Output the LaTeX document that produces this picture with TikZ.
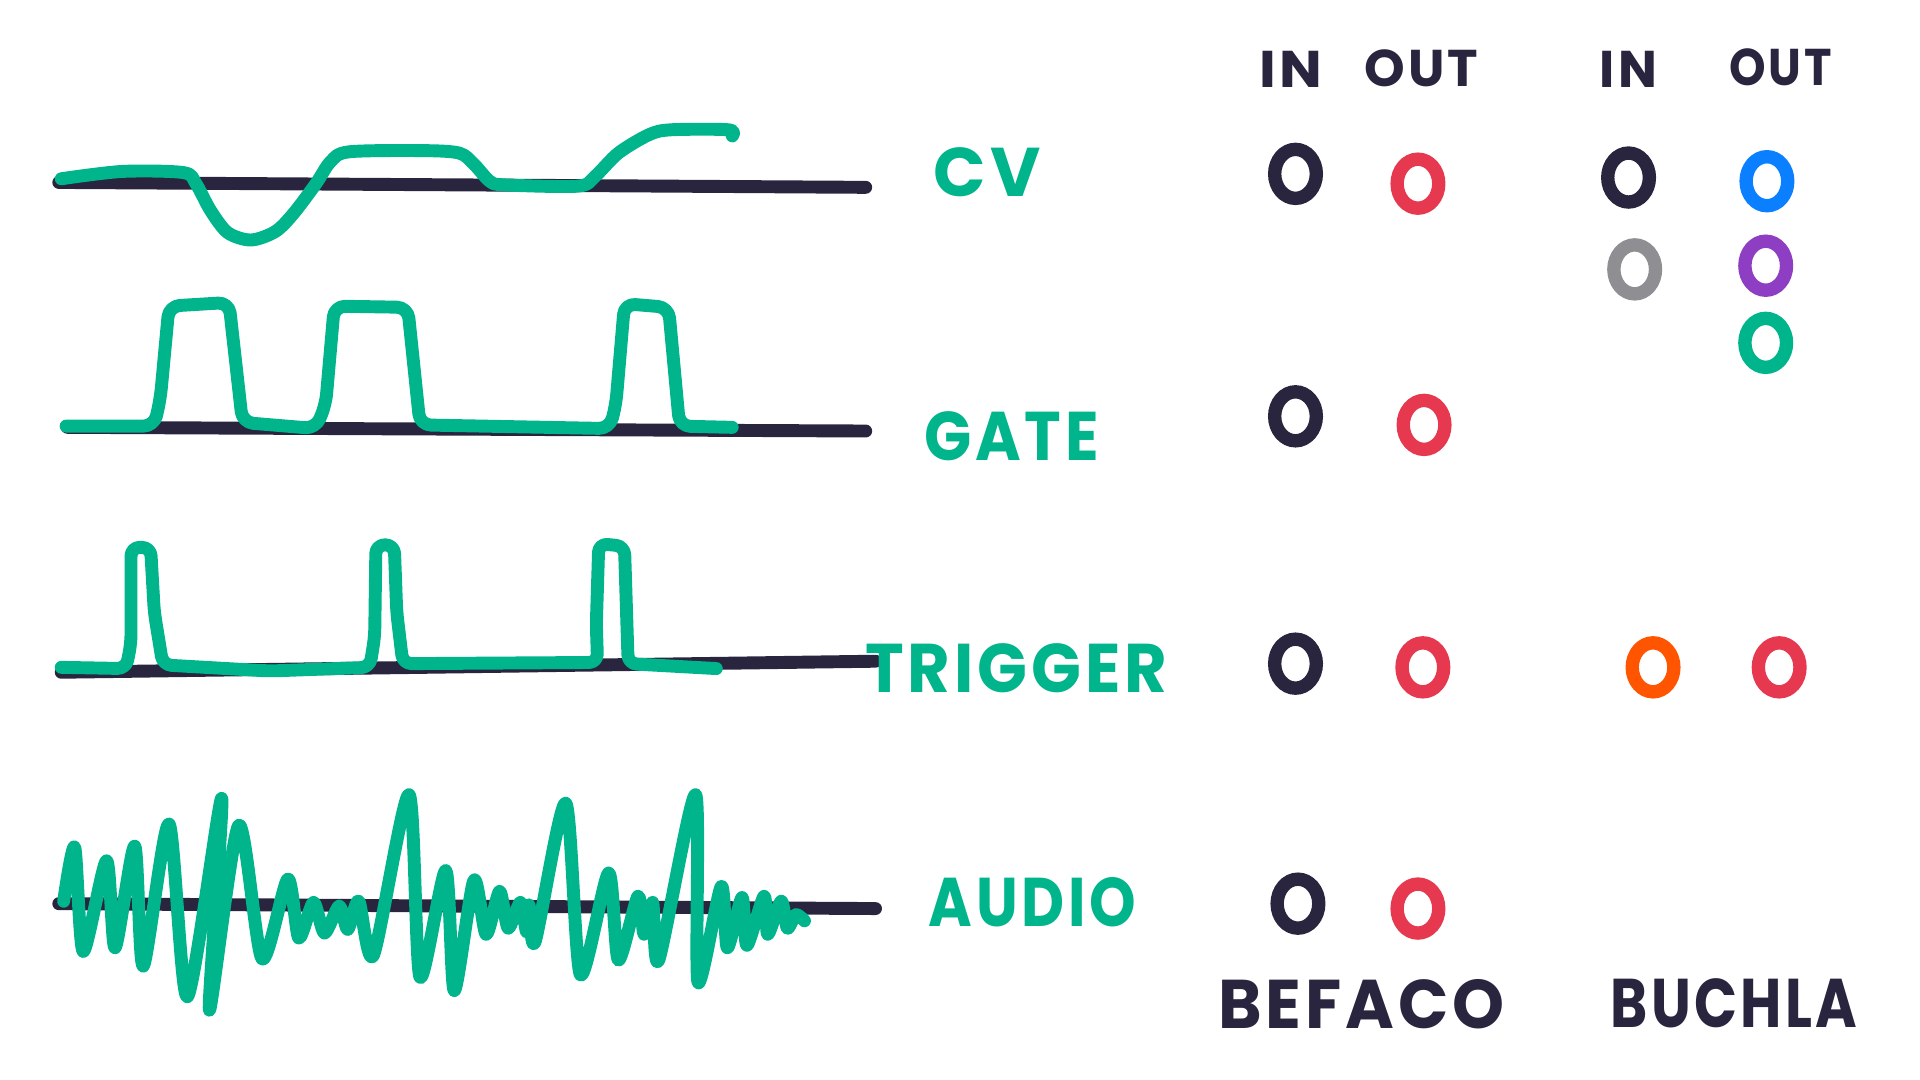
\documentclass[tikz,border=0pt]{standalone}
\usepackage{fontspec}
\newfontfamily\handfont[LetterSpace=6]{Poppins}
\usetikzlibrary{shapes.geometric}
\definecolor{ink}{HTML}{29253F}
\definecolor{sigteal}{HTML}{00B48C}
\definecolor{jred}{HTML}{E63950}
\definecolor{jblue}{HTML}{0A7FFF}
\definecolor{jpurple}{HTML}{8E3EC2}
\definecolor{jgray}{HTML}{8E8E93}
\definecolor{jorange}{HTML}{FF5500}
\tikzset{
  base/.style={draw=ink, line width=3pt, line cap=round},
  wave/.style={draw=sigteal, line width=3pt, line cap=round, line join=round},
  jack/.style={ellipse, draw=#1, line width=3.1pt, minimum width=0.34cm, minimum height=0.40cm, inner sep=0pt},
  siglabel/.style={text=sigteal, font=\handfont\bfseries\fontsize{16}{16}\selectfont, inner sep=0pt},
  hdr/.style={text=ink, font=\handfont\bfseries\fontsize{12}{12}\selectfont, inner sep=0pt},
  brand/.style={text=ink, font=\handfont\bfseries\fontsize{16}{16}\selectfont, inner sep=0pt}
}
\begin{document}
\begin{tikzpicture}[x=0.01cm, y=-0.01cm]
\useasboundingbox[fill=white] (0,0) rectangle (1568,882);

% baselines
\coordinate (cvA) at (48,149);  \coordinate (cvB) at (707,153);
\coordinate (gtA) at (55,349);  \coordinate (gtB) at (707,352);
\coordinate (trA) at (50,549);  \coordinate (trB) at (715,540);
\coordinate (auA) at (48,738);  \coordinate (auB) at (715,742);
\draw[base] (cvA) -- (cvB);
\draw[base] (gtA) -- (gtB);
\draw[base] (trA) -- (trB);
\draw[base] (auA) -- (auB);

% CV wave
\draw[wave] plot[smooth, tension=0.5] coordinates {
 (50,146) (100,140) (150,141) (160,150) (172,172) (186,190) (205,196) (225,189)
 (240,174) (258,150) (270,132) (285,124) (345,123) (375,125) (387,134) (400,148)
 (412,151) (472,152) (486,144) (505,125) (530,110) (548,106) (595,106) (598,111)};

% GATE wave
\draw[wave, rounded corners=2.5pt] (54,348) -- (126,348) -- (131,325) -- (138,250)
 -- (187,247) -- (198,345) -- (258,350) -- (266,330) -- (273,250)
 -- (333,251) -- (343,347) -- (498,350) -- (503,330) -- (510,248)
 -- (546,251) -- (555,348) -- (598,349);

% TRIGGER wave
\draw[wave, rounded corners=2pt] (50,545) -- (103,546) -- (107,525) -- (107,447)
 -- (123,447) -- (126,500) -- (133,543) -- (220,548) -- (302,545) -- (306,520)
 -- (307,445) -- (322,445) -- (324,500) -- (329,542) -- (488,541) -- (487,510)
 -- (489,444) -- (510,446) -- (513,542) -- (585,546);

% AUDIO wave
\draw[wave] plot[smooth, tension=0.45] coordinates {
 (52,736) (61,692) (68,777) (87,703) (94,774) (110,691) (117,789) (138,673)
 (153,814) (181,652) (171,825) (195,674) (214,783) (235,718) (244,766) (256,737)
 (265,762) (277,740) (284,759) (293,736) (305,780) (334,649) (343,798) (364,711)
 (371,809) (387,719) (397,763) (408,728) (415,758) (425,737) (430,761) (432,739)
 (437,769) (462,656) (474,796) (497,713) (505,784) (521,732) (526,763) (533,737)
 (538,784) (568,649) (570,802) (589,724) (594,774) (606,733) (610,772) (624,732)
 (627,763) (638,736) (643,758) (650,747) (657,752)};

% signal labels
\node[siglabel] (lcv) at (806,141) {CV};
\node[siglabel] (lgate) at (826,356) {\scalebox{0.9}[1]{GATE}};
\node[siglabel] (ltrig) at (830,546) {\scalebox{0.95}[1]{TRIGGER}};
\node[siglabel] (laudio) at (843,737) {\scalebox{0.86}[1]{AUDIO}};

% headers
\node[hdr] (hin1) at (1054,57) {\scalebox{1.1}[1]{IN}};
\node[hdr] (hout1) at (1161,56) {OUT};
\node[hdr] (hin2) at (1330,57) {IN};
\node[hdr] (hout2) at (1454,55) {\scalebox{0.9}[1]{OUT}};

% Befaco jacks
\node[jack=ink] (bcvi) at (1058,142) {};
\node[jack=jred] (bcvo) at (1158,150) {};
\node[jack=ink] (bgti) at (1058,340) {};
\node[jack=jred] (bgto) at (1163,347) {};
\node[jack=ink] (btri) at (1058,542) {};
\node[jack=jred] (btro) at (1162,545) {};
\node[jack=ink] (baui) at (1060,738) {};
\node[jack=jred] (bauo) at (1158,742) {};

% Buchla jacks
\node[jack=ink] (ucvi1) at (1330,145) {};
\node[jack=jgray] (ucvi2) at (1335,220) {};
\node[jack=jblue] (ucvo1) at (1443,148) {};
\node[jack=jpurple] (ucvo2) at (1442,217) {};
\node[jack=sigteal] (ucvo3) at (1442,280) {};
\node[jack=jorange] (utri) at (1350,545) {};
\node[jack=jred] (utro) at (1453,545) {};

% brand labels
\node[brand] (befaco) at (1112,820) {\scalebox{0.96}[1]{BEFACO}};
\node[brand] (buchla) at (1416,819) {\scalebox{0.82}[1]{BUCHLA}};
\end{tikzpicture}
\end{document}
